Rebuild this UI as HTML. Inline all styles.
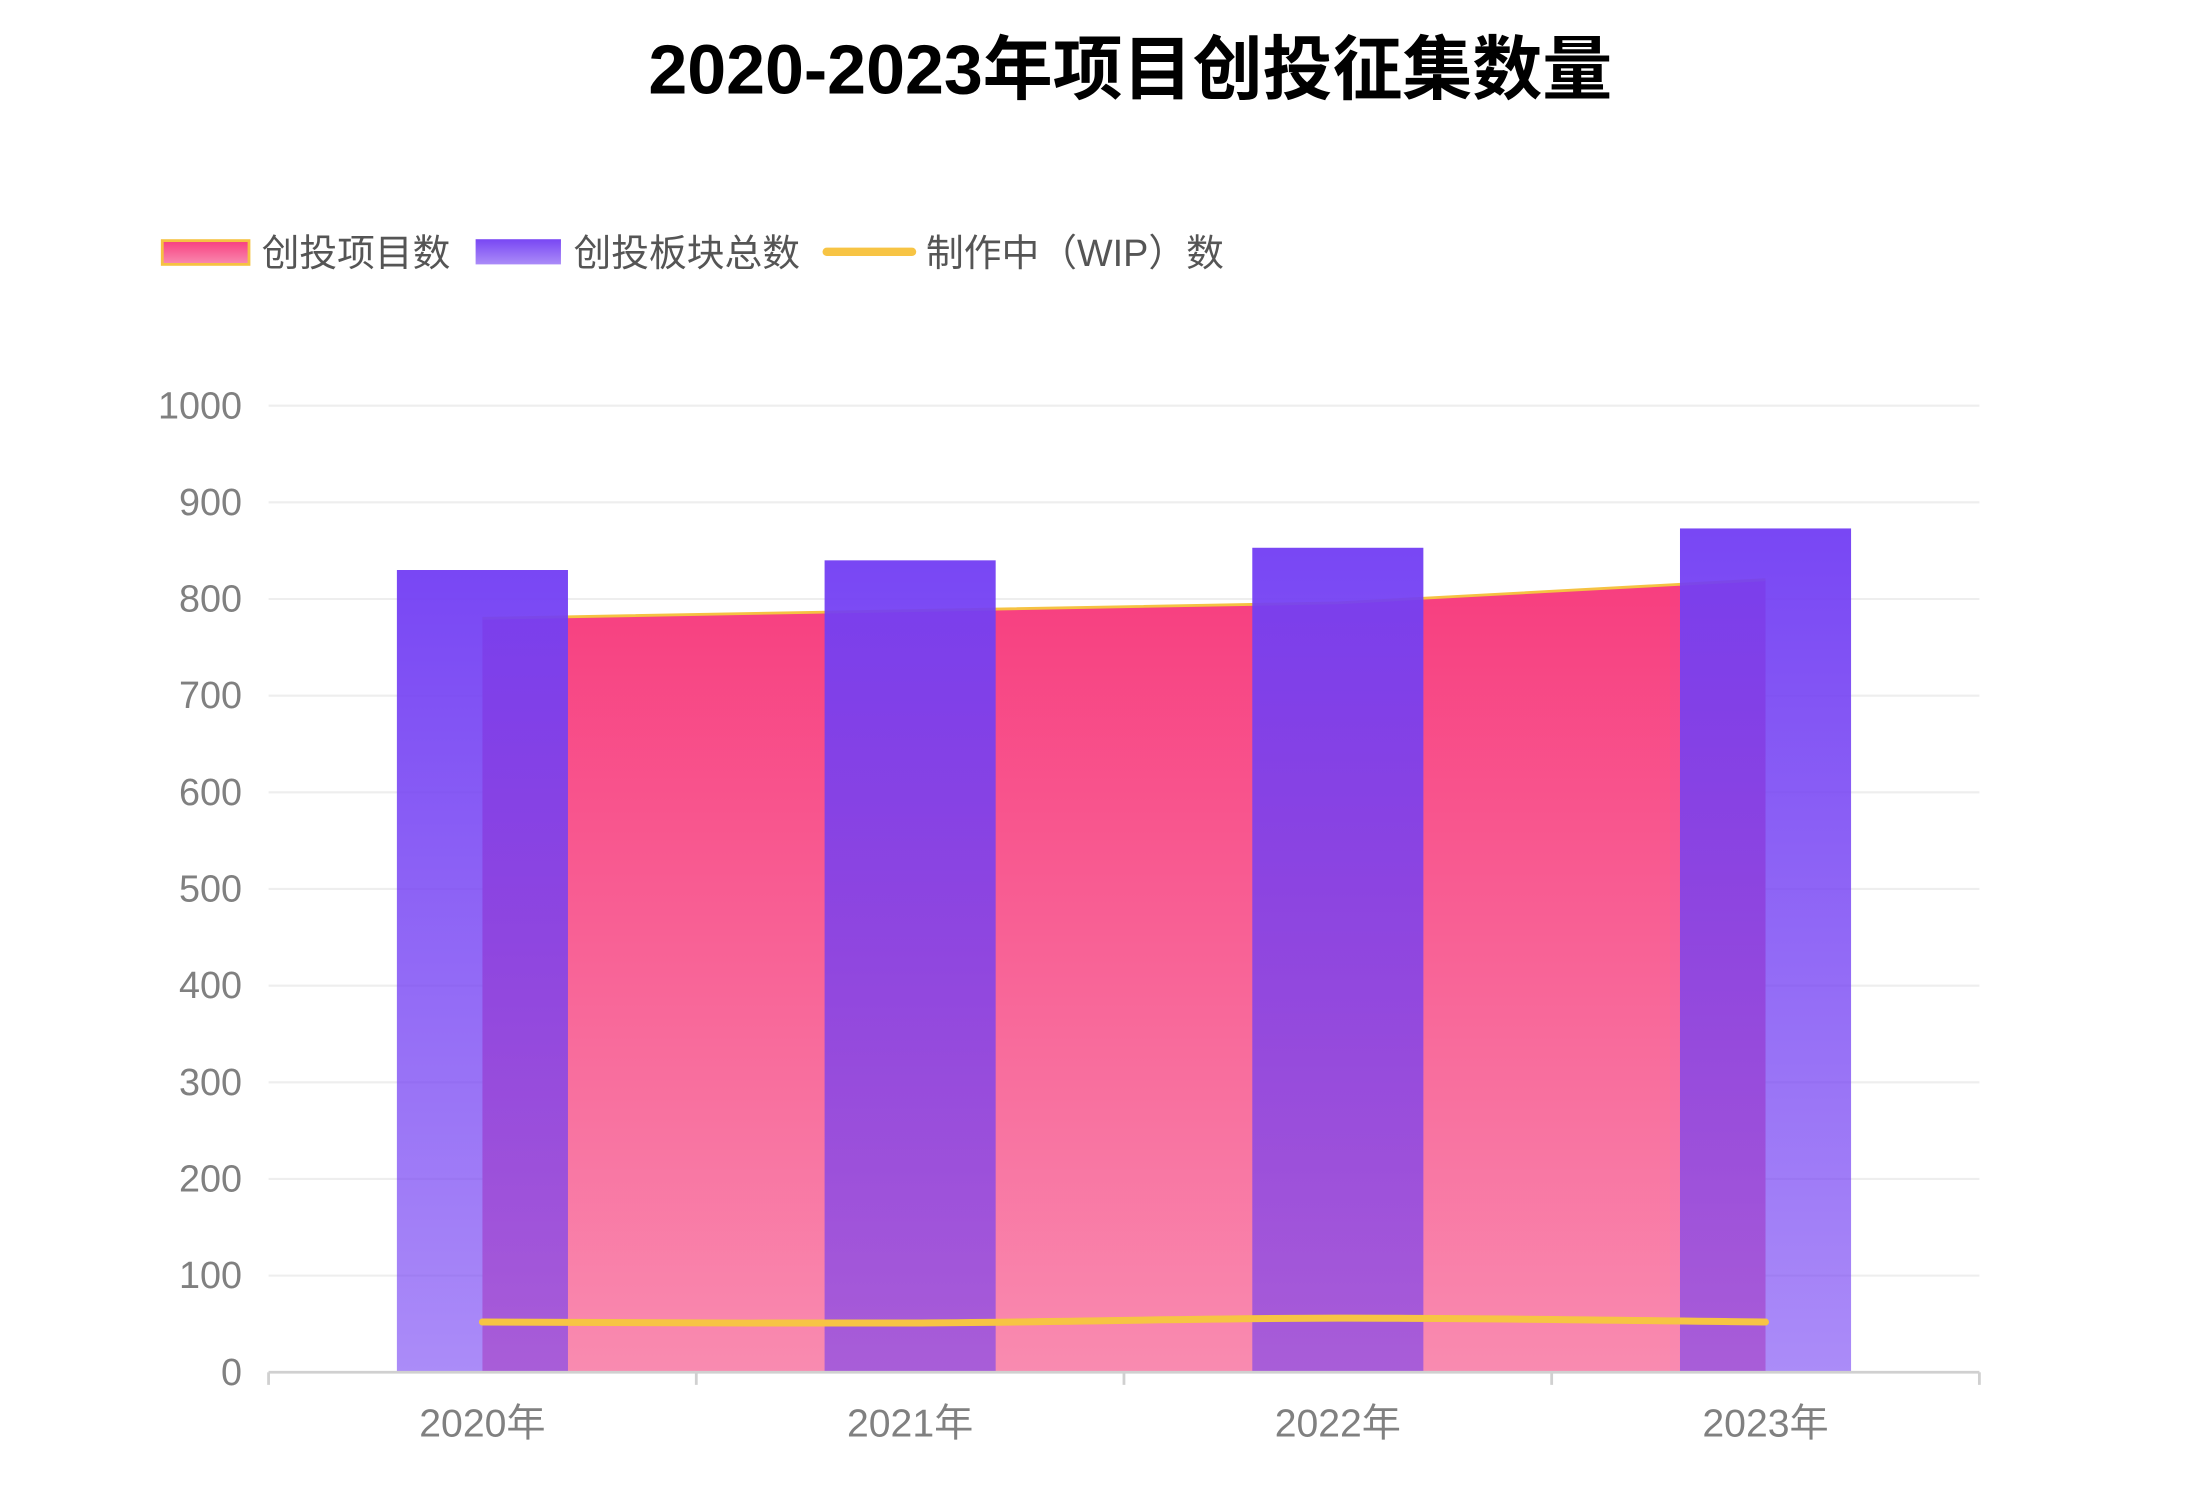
<!DOCTYPE html>
<html><head><meta charset="utf-8"><style>
html,body{margin:0;padding:0;background:#fff;}
svg{display:block;}
text{font-family:"Liberation Sans","Noto Sans CJK SC",sans-serif;}
</style></head><body>
<svg id="chart" width="2192" height="1494" viewBox="0 0 1567 1068" xmlns="http://www.w3.org/2000/svg">
<defs>
<linearGradient id="gPink" x1="0" y1="0" x2="0" y2="1"><stop offset="0" stop-color="#f73e7f"/><stop offset="1" stop-color="#f98bb0"/></linearGradient>
<linearGradient id="gBar" x1="0" y1="0" x2="0" y2="1"><stop offset="0" stop-color="rgb(115,63,243)" stop-opacity="0.96"/><stop offset="1" stop-color="rgb(115,63,243)" stop-opacity="0.6"/></linearGradient>
</defs>
<text x="808" y="67" text-anchor="middle" font-size="50" font-weight="bold" fill="#000">2020-2023年项目创投征集数量</text>
<g>
<g>
<rect x="116" y="172" width="62" height="17" fill="url(#gPink)" stroke="#f5c242" stroke-width="2"/>
<text x="187" y="190" font-size="27" fill="#555">创投项目数</text></g>
<g>
<rect x="340" y="171" width="61" height="18" fill="url(#gBar)"/>
<text x="410" y="190" font-size="27" fill="#555">创投板块总数</text></g>
<g>
<line x1="591" y1="180" x2="652" y2="180" stroke="#f7c444" stroke-width="6" stroke-linecap="round"/>
<text x="662" y="190" font-size="27" fill="#555">制作中（WIP）数</text></g>
</g>
<g id="grid"></g><g id="area"></g><g id="bars"></g><g id="line"></g><g id="axes"></g>
</svg>
<script>
const categories=['2020年','2021年','2022年','2023年'];
const totalValues=[830,840,853,873];
const projectValues=[780,788,796,820];
const wipValues=[52,51,56,52];
const yTicks=[0,100,200,300,400,500,600,700,800,900,1000];
const NS='http://www.w3.org/2000/svg';
const L=192,R=1415,T=290,B=981,yMax=1000;
const bw=(R-L)/categories.length;
const y=v=>B-(v/yMax)*(B-T);
const xc=i=>L+bw*(i+0.5);
function mk(tag,attrs,parent){const e=document.createElementNS(NS,tag);for(const k in attrs)e.setAttribute(k,attrs[k]);document.getElementById(parent).appendChild(e);return e;}
yTicks.forEach(t=>{
  const g=mk('line',{x1:L,x2:R,y1:y(t),y2:y(t),stroke:'#eeeeee','stroke-width':1.5},'grid');
  
  
  const tx=mk('text',{x:173,y:y(t)+9,'text-anchor':'end','font-size':27,fill:'#808080'},'grid');
  tx.textContent=t;
  
  
});
let d='M'+xc(0)+','+B;
projectValues.forEach((v,i)=>{d+=' L'+xc(i)+','+y(v);});
d+=' L'+xc(projectValues.length-1)+','+B+' Z';
const ar=mk('path',{d:d,fill:'url(#gPink)'},'area');


const ln=mk('polyline',{points:projectValues.map((v,i)=>xc(i)+','+y(v)).join(' '),fill:'none',stroke:'#f5c242','stroke-width':2},'area');


totalValues.forEach((v,i)=>{
  const w=bw*0.4;
  const r=mk('rect',{x:xc(i)-w/2,y:y(v),width:w,height:B-y(v),fill:'url(#gBar)'},'bars');
  
  
});
const pts=wipValues.map((v,i)=>[xc(i),y(v)]);
let p='M'+pts[0][0]+','+pts[0][1];
for(let i=0;i<pts.length-1;i++){
  const p0=pts[Math.max(0,i-1)],p1=pts[i],p2=pts[i+1],p3=pts[Math.min(pts.length-1,i+2)];
  const c1=[p1[0]+(p2[0]-p0[0])/6,p1[1]+(p2[1]-p0[1])/6];
  const c2=[p2[0]-(p3[0]-p1[0])/6,p2[1]-(p3[1]-p1[1])/6];
  p+=' C'+c1[0]+','+c1[1]+' '+c2[0]+','+c2[1]+' '+p2[0]+','+p2[1];
}
const wl=mk('path',{d:p,fill:'none',stroke:'#f7c444','stroke-width':5,'stroke-linecap':'round'},'line');


const ax=mk('line',{x1:L,x2:R,y1:B,y2:B,stroke:'#d0d0d0','stroke-width':2},'axes');


for(let i=0;i<=categories.length;i++){
  const tk=mk('line',{x1:L+bw*i,x2:L+bw*i,y1:B,y2:B+9,stroke:'#d0d0d0','stroke-width':2},'axes');
  
  
}
categories.forEach((c,i)=>{
  const tx=mk('text',{x:xc(i),y:1027,'text-anchor':'middle','font-size':28,fill:'#808080'},'axes');
  tx.textContent=c;
  
  
});
</script>
</body></html>
